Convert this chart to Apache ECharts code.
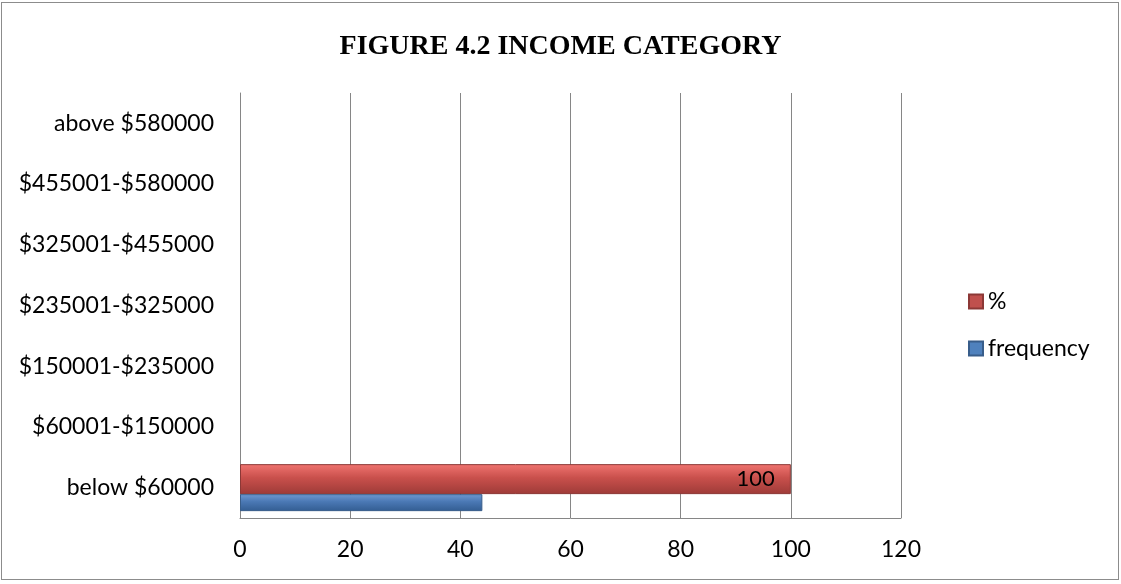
<!DOCTYPE html>
<html>
<head>
<meta charset="utf-8">
<title>Income category</title>
<script src="https://cdn.jsdelivr.net/npm/echarts@6/dist/echarts.min.js"></script>
<style>
body { margin: 0; background: #fff; }
#frame { position: absolute; left: 1px; top: 2px; width: 1116px; height: 576px; border: 1px solid #8c8c8c; }
#chart { position: absolute; left: -2px; top: -3px; width: 1121px; height: 584px; }
</style>
</head>
<body>
<div id="frame"><div id="chart"></div></div>
<script>
var categories = ['below $60000', '$60001-$150000', '$150001-$235000', '$235001-$325000', '$325001-$455000', '$455001-$580000', 'above $580000'];
var frequency = [44, null, null, null, null, null, null];
var percent = [100, null, null, null, null, null, null];
var xTicks = [0, 20, 40, 60, 80, 100, 120];

var font = 'Lato, "Open Sans", sans-serif';
var red = { type: 'linear', x: 0, y: 0, x2: 0, y2: 1, colorStops: [
    { offset: 0, color: '#f07470' }, { offset: 0.45, color: '#c9504c' }, { offset: 1, color: '#9e3b38' }] };
var blue = { type: 'linear', x: 0, y: 0, x2: 0, y2: 1, colorStops: [
    { offset: 0, color: '#6f9ad2' }, { offset: 0.45, color: '#4a78b4' }, { offset: 1, color: '#335d92' }] };

echarts.init(document.getElementById('chart')).setOption({
    animation: false,
    title: {
        text: 'FIGURE 4.2 INCOME CATEGORY',
        left: 'center',
        top: 28,
        textStyle: { fontFamily: '"Liberation Serif", serif', fontWeight: 'bold', fontSize: 28, color: '#000' }
    },
    legend: {
        orient: 'vertical',
        left: 963,
        top: 285,
        itemGap: 24,
        itemWidth: 14,
        itemHeight: 14,
        icon: 'rect',
        data: [
            { name: '%', itemStyle: { color: '#c0504d' } },
            { name: 'frequency', itemStyle: { color: '#4f81bd' } }
        ],
        textStyle: { fontFamily: font, fontSize: 23, color: '#000', padding: [0, 0, 0, 0] }
    },
    grid: { left: 240, right: 220, top: 93, bottom: 66 },
    xAxis: {
        type: 'value',
        min: 0,
        max: 120,
        interval: 20,
        axisLine: { show: true, lineStyle: { color: '#868686' } },
        axisTick: { show: false },
        splitLine: { show: true, lineStyle: { color: '#868686', width: 1 } },
        axisLabel: {
            fontFamily: font, fontSize: 23, color: '#000', margin: 20,
            formatter: function (v) { return xTicks.indexOf(v) >= 0 ? String(v) : ''; }
        }
    },
    yAxis: {
        type: 'category',
        data: categories,
        axisLine: { show: true, lineStyle: { color: '#868686' } },
        axisTick: { show: false },
        axisLabel: { fontFamily: font, fontSize: 23, color: '#000', margin: 26 }
    },
    series: [
        {
            name: '%',
            type: 'bar',
            data: percent,
            barWidth: 30,
            barGap: '0%',
            itemStyle: { color: red, borderColor: '#8c3836', borderWidth: 1 },
            label: { show: true, position: 'insideRight', distance: 16, fontFamily: font, fontSize: 22, color: '#000' }
        },
        {
            name: 'frequency',
            type: 'bar',
            data: frequency,
            barWidth: 17,
            barGap: '0%',
            itemStyle: { color: blue, borderColor: '#385d8a', borderWidth: 1 }
        }
    ]
});
</script>
</body>
</html>
